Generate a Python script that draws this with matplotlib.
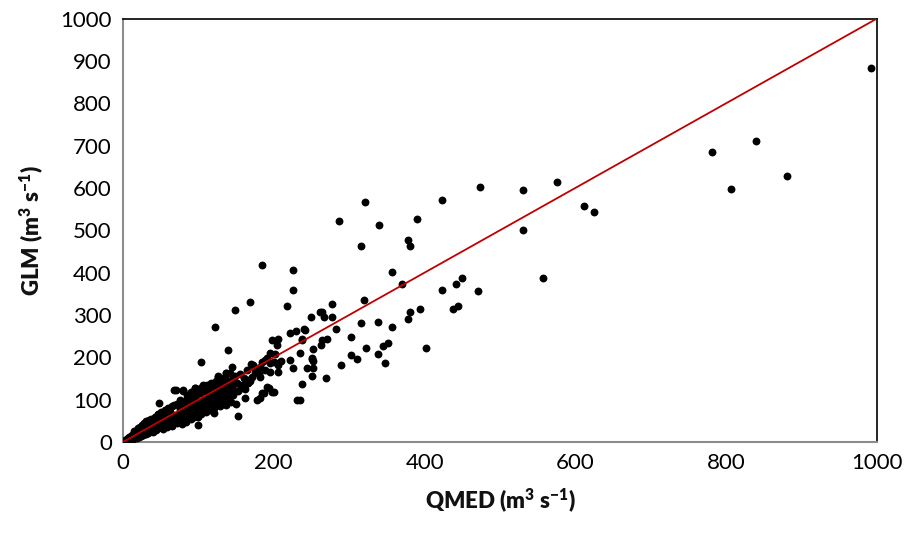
import numpy as np
import matplotlib.pyplot as plt

plt.rcParams['font.family'] = ['Lato', 'DejaVu Sans']
plt.rcParams['mathtext.fontset'] = 'custom'
plt.rcParams['mathtext.rm'] = 'Lato'
plt.rcParams['mathtext.bf'] = 'Lato:heavy'

# Puntos dispersos (QMED, GLM)
qmed_out = [992, 839, 781, 881, 807, 531, 576, 612, 625, 530, 557, 473, 321, 423,
            287, 339, 390, 315, 378, 381, 357, 370, 423, 449, 442, 471, 319, 277,
            438, 444, 394, 381, 378, 357, 338, 315, 264, 266, 250, 277, 240, 282,
            270, 264, 262, 302, 352, 345, 322, 402, 303, 311, 338, 347, 289, 252,
            251, 252, 244, 252, 251, 269, 237, 235, 235, 237, 185, 226, 225, 168,
            149, 218, 122, 139, 104, 198, 205, 221, 229, 237, 241, 195, 189, 200,
            206, 221, 226, 251, 172, 175, 181, 166, 191, 200, 187, 178, 162, 231,
            153, 150, 99, 48, 121, 204, 202, 191, 184, 170, 195, 206, 209, 182,
            177, 188, 195, 206, 171, 182, 193, 197, 184, 182, 164, 166, 145, 142,
            146, 151, 261]
glm_out = [882, 711, 684, 627, 598, 596, 614, 558, 542, 500, 388, 601, 566, 571,
           521, 512, 526, 462, 478, 462, 402, 374, 358, 388, 374, 356, 336, 326,
           314, 320, 313, 307, 290, 272, 284, 281, 308, 296, 295, 296, 266, 266,
           244, 240, 229, 248, 233, 227, 221, 221, 206, 195, 207, 186, 182, 219,
           198, 192, 174, 174, 157, 150, 137, 99, 210, 241, 418, 407, 359, 330,
           312, 322, 271, 218, 190, 241, 243, 257, 262, 243, 265, 210, 194, 190,
           186, 194, 175, 196, 181, 165, 160, 139, 131, 117, 115, 100, 105, 98,
           62, 90, 40, 91, 69, 229, 208, 198, 190, 184, 186, 182, 191, 178,
           170, 170, 166, 166, 154, 154, 127, 119, 115, 103, 139, 147, 178, 162,
           150, 139, 308]

# Nube densa de valores bajos
qmed_low = [1, 2, 3, 4, 5, 5, 6, 7, 7, 8, 8, 9, 10, 10, 11, 12, 12, 13, 14, 14,
            15, 15, 16, 17, 18, 18, 19, 20, 20, 21, 22, 22, 23, 24, 24, 25, 26, 27,
            27, 28, 29, 30, 30, 31, 32, 33, 33, 34, 35, 35, 36, 37, 38, 38, 39, 40,
            40, 41, 42, 42, 43, 44, 45, 45, 46, 47, 48, 49, 50, 50, 51, 52, 53, 54,
            55, 55, 56, 57, 58, 59, 60, 60, 61, 62, 63, 64, 65, 65, 66, 67, 67, 70,
            70, 71, 72, 73, 74, 75, 76, 77, 78, 79, 80, 80, 80, 81, 82, 83, 84, 85,
            86, 87, 88, 89, 90, 90, 91, 92, 93, 94, 95, 95, 95, 96, 97, 98, 99, 100,
            100, 101, 102, 103, 104, 105, 106, 106, 107, 108, 109, 110, 111, 112,
            113, 114, 115, 116, 117, 118, 119, 120, 121, 122, 123, 124, 125, 126,
            126, 127, 128, 129, 130, 131, 132, 133, 134, 135, 136, 137, 137, 138,
            139, 140, 142, 143, 145, 146, 148, 150, 152, 155, 158, 160, 162, 165,
            168, 20, 25, 35, 45, 55, 62, 68, 75, 85, 92, 98, 110, 118, 128, 135,
            16, 28, 38, 52, 58, 64, 72, 88, 102, 112, 124, 133, 144, 156]
glm_low = [2, 1, 5, 3, 8, 2, 6, 10, 4, 12, 6, 9, 14, 5, 8, 16, 10, 7, 20, 12,
           9, 25, 18, 13, 28, 10, 22, 16, 30, 12, 25, 35, 18, 28, 14, 40, 22, 32,
           17, 45, 26, 36, 20, 50, 30, 40, 22, 28, 48, 35, 25, 55, 42, 30, 32, 50,
           24, 38, 60, 45, 35, 28, 52, 40, 65, 33, 48, 42, 58, 36, 70, 45, 30, 62,
           50, 40, 75, 55, 35, 68, 48, 80, 60, 42, 72, 55, 38, 85, 64, 50, 123, 122,
           58, 45, 90, 66, 52, 100, 78, 60, 42, 85, 120, 70, 123, 55, 95, 75, 48, 110,
           80, 62, 100, 70, 118, 55, 88, 75, 105, 60, 128, 90, 128, 72, 110, 82, 58, 95,
           125, 70, 115, 88, 65, 130, 100, 134, 78, 120, 92, 70, 135, 105,
           85, 118, 75, 98, 140, 110, 88, 125, 80, 100, 145, 115, 92, 155,
           154, 130, 105, 85, 120, 140, 98, 110, 150, 125, 88, 162, 163, 135,
           105, 120, 145, 95, 130, 112, 155, 140, 120, 160, 135, 150, 125, 170,
           145, 32, 38, 52, 62, 72, 80, 88, 95, 105, 112, 120, 130, 138, 148, 150,
           10, 20, 28, 42, 46, 52, 60, 70, 82, 92, 100, 108, 118, 128]

qmed = np.array(qmed_out + qmed_low)
glm = np.array(glm_out + glm_low)

# Recta 1:1
linea = np.array([0, 1000])

fig = plt.figure(figsize=(9.09, 5.40), dpi=100)
ax = fig.add_axes([0.1353, 0.1815, 0.8295, 0.7842])

ax.scatter(qmed, glm, s=32, color='black', linewidths=0, zorder=3)
ax.plot(linea, linea, color='#C00000', linewidth=1.3, zorder=4)

ax.set_xlim(0, 1000)
ax.set_ylim(0, 1000)
ax.set_xticks(np.arange(0, 1001, 200))
ax.set_yticks(np.arange(0, 1001, 100))
ax.tick_params(length=0, labelsize=16, pad=8, colors='black')

for lado in ['left', 'bottom']:
    ax.spines[lado].set_color('#8c8c8c')
    ax.spines[lado].set_linewidth(1.5)
for lado in ['top', 'right']:
    ax.spines[lado].set_color('black')
    ax.spines[lado].set_linewidth(1.2)

ax.set_xlabel(r'QMED (m$^{\mathbf{3}}$ s$^{\mathbf{-1}}$)', fontsize=16,
              fontweight='heavy', labelpad=10, color='#111111')
ax.set_ylabel(r'GLM (m$^{\mathbf{3}}$ s$^{\mathbf{-1}}$)', fontsize=16,
              fontweight='heavy', labelpad=10, color='#111111')

plt.savefig('out.png')
